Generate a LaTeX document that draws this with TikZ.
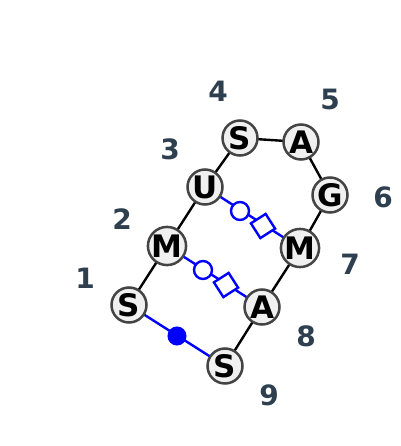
\documentclass[tikz,border=0pt]{standalone}
\usepackage{fontspec}
\setmainfont{DejaVu Sans}
\definecolor{numcol}{HTML}{2E3F50}
\definecolor{nodefill}{HTML}{F0F0F0}
\definecolor{nodeedge}{HTML}{444444}
\begin{document}
\begin{tikzpicture}[x=1pt,y=-1pt,
  res/.style={circle,draw=nodeedge,fill=nodefill,line width=2.5pt,minimum size=35pt,inner sep=0pt,font=\fontsize{31}{31}\selectfont\bfseries},
  num/.style={font=\fontsize{28}{28}\selectfont\bfseries,text=numcol},
  bb/.style={black,line width=2.4pt},
  bp/.style={blue,line width=2.4pt},
  ocirc/.style={circle,draw=blue,fill=white,line width=2.4pt,minimum size=18pt,inner sep=0pt},
  fcirc/.style={circle,draw=blue,fill=blue,line width=1pt,minimum size=18pt,inner sep=0pt},
  osq/.style={rectangle,draw=blue,fill=white,line width=2.4pt,minimum size=17.5pt,inner sep=0pt}]
\path[use as bounding box,fill=white] (0,0) rectangle (400,446);
% coordinates
\coordinate (p1) at (129,305);
\coordinate (p2) at (167,246);
\coordinate (p3) at (205,187);
\coordinate (p4) at (240,138);
\coordinate (p5) at (301,142);
\coordinate (p6) at (330,195);
\coordinate (p7) at (300,248);
\coordinate (p8) at (262,307);
\coordinate (p9) at (225,366);
% backbone
\draw[bb] (p1) -- (p2) -- (p3) -- (p4) -- (p5) -- (p6) -- (p7) -- (p8) -- (p9);
% base pairs
\draw[bp] (p3) -- (p7);
\draw[bp] (p2) -- (p8);
\draw[bp] (p1) -- (p9);
\node[ocirc] (c37) at (240,211) {};
\node[osq,rotate=32.7] (s37) at (263,226) {};
\node[ocirc] (c28) at (203,270) {};
\node[osq,rotate=32.7] (s28) at (226,285) {};
\node[fcirc] (f19) at (177,336) {};
% residues
\node[res] (n1) at (p1) {S};
\node[res] (n2) at (p2) {M};
\node[res] (n3) at (p3) {U};
\node[res] (n4) at (p4) {S};
\node[res] (n5) at (p5) {A};
\node[res] (n6) at (p6) {G};
\node[res] (n7) at (p7) {M};
\node[res] (n8) at (p8) {A};
\node[res] (n9) at (p9) {S};
% numbers
\node[num] (l1) at (85,278) {1};
\node[num] (l2) at (122,219) {2};
\node[num] (l3) at (170,149) {3};
\node[num] (l4) at (218,91) {4};
\node[num] (l5) at (330,99) {5};
\node[num] (l6) at (383,197) {6};
\node[num] (l7) at (350,264) {7};
\node[num] (l8) at (306,336) {8};
\node[num] (l9) at (269,395) {9};
\end{tikzpicture}
\end{document}
